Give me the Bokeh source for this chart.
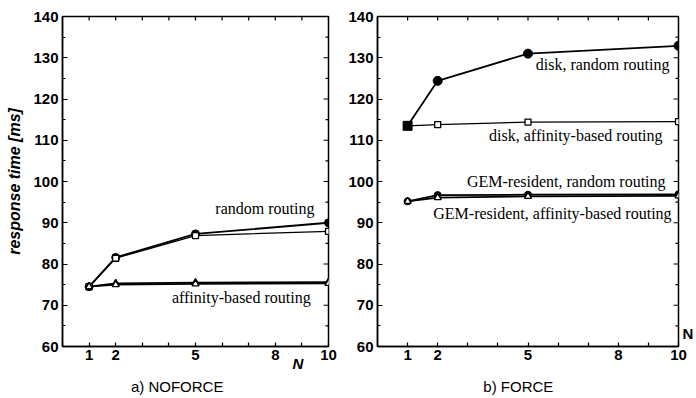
import math
from bokeh.plotting import figure
from bokeh.layouts import row
from bokeh.models import FixedTicker, Label, Range1d, LinearAxis
from bokeh.embed import file_html
from bokeh.resources import INLINE

# ---- data ----
n = [1, 2, 5, 10]
# a) NOFORCE
nf_random_circ = [74.5, 81.6, 87.3, 90.0]
nf_random_sq = [74.5, 81.4, 86.9, 87.9]
nf_aff_a = [74.5, 75.3, 75.5, 75.6]
nf_aff_b = [74.5, 75.0, 75.2, 75.3]
# b) FORCE
f_disk_random = [113.5, 124.4, 131.0, 132.9]
f_disk_aff = [113.5, 113.8, 114.4, 114.5]
f_gem_random = [95.2, 96.7, 96.8, 96.9]
f_gem_aff = [95.2, 96.1, 96.4, 96.5]

x_ticks = [1, 2, 3, 4, 5, 6, 7, 8, 9, 10]
x_tick_labels = {1: "1", 2: "2", 5: "5", 8: "8", 10: "10"}
y_major = [60, 70, 80, 90, 100, 110, 120, 130, 140]
y_minor = [65, 75, 85, 95, 105, 115, 125, 135]
X_MAX = 10
Y_MAX = 140

TICK_FONT = "Liberation Sans"
SERIF = "Liberation Serif"


def make_fig(width, bl, br, ylabel=None):
    p = figure(width=width, height=398, output_backend="svg", toolbar_location=None,
               x_range=Range1d(0, X_MAX), y_range=Range1d(60, Y_MAX),
               min_border_left=bl, min_border_right=br, min_border_top=16, min_border_bottom=52)
    p.grid.visible = False
    p.background_fill_color = "white"
    p.border_fill_color = "white"
    p.outline_line_color = "black"
    p.outline_line_width = 1.5

    overrides = {t: x_tick_labels.get(t, "") for t in x_ticks}
    xa = p.xaxis[0]
    xa.ticker = FixedTicker(ticks=x_ticks)
    xa.major_label_overrides = overrides
    ya = p.yaxis[0]
    ya.ticker = FixedTicker(ticks=y_major, minor_ticks=y_minor)

    for ax in (xa, ya):
        ax.axis_line_color = "black"
        ax.axis_line_width = 1.5
        ax.major_tick_in = 5
        ax.major_tick_out = 0
        ax.minor_tick_in = 3
        ax.minor_tick_out = 0
        ax.major_tick_line_width = 1.2
        ax.minor_tick_line_width = 1.2
        ax.major_label_text_font = TICK_FONT
        ax.major_label_text_font_style = "bold"
        ax.major_label_text_font_size = "15px"
        ax.major_label_text_color = "black"
    xa.major_tick_in = 4
    xa.major_label_standoff = 3
    ya.major_label_standoff = 4

    # inward ticks on the top and right frame edges
    p.ray(x=x_ticks, y=[Y_MAX] * len(x_ticks), length=4, length_units="screen",
          angle=-math.pi / 2, line_color="black", line_width=1.2)
    p.ray(x=[X_MAX] * len(y_major), y=y_major, length=5, length_units="screen",
          angle=math.pi, line_color="black", line_width=1.2)
    p.ray(x=[X_MAX] * len(y_minor), y=y_minor, length=3, length_units="screen",
          angle=math.pi, line_color="black", line_width=1.2)

    if ylabel:
        ya.axis_label = ylabel
        ya.axis_label_text_font = TICK_FONT
        ya.axis_label_text_font_style = "bold italic"
        ya.axis_label_text_font_size = "16px"
        ya.axis_label_text_color = "black"
        ya.axis_label_standoff = 7
    return p


def text_axis(p, side, pos, text, standoff, style="normal", size="15px"):
    """An axis with no line and no ticks, used only to place one text outside the frame."""
    ax = LinearAxis(ticker=FixedTicker(ticks=[pos]), major_label_overrides={pos: text},
                    axis_line_color=None, major_tick_line_color=None, minor_tick_line_color=None,
                    major_tick_in=0, major_tick_out=0, minor_tick_in=0, minor_tick_out=0,
                    major_label_standoff=standoff, major_label_text_font=TICK_FONT,
                    major_label_text_font_size=size, major_label_text_font_style=style,
                    major_label_text_color="black")
    if side == "right":
        ax.major_label_orientation = "horizontal"
    p.add_layout(ax, side)
    return ax


def add_text(p, x, y, text):
    p.add_layout(Label(x=x, y=y, text=text, text_font=SERIF, text_font_size="16px",
                       text_align="right", text_baseline="middle", text_color="black"))


# ---- panel a ----
p1 = make_fig(338, 62, 10, ylabel="response time [ms]")
p1.line(n, nf_random_circ, line_color="black", line_width=1.8)
p1.scatter(n, nf_random_circ, marker="circle", size=8, fill_color="black", line_color="black")
p1.line(n, nf_random_sq, line_color="black", line_width=1.3)
p1.line(n, nf_aff_a, line_color="black", line_width=1.8)
p1.line(n, nf_aff_b, line_color="black", line_width=1.8)
p1.scatter(n, nf_random_sq, marker="square", size=6, fill_color="white", line_color="black", line_width=1.3)
p1.scatter(n, nf_aff_a, marker="triangle", size=7, fill_color="white", line_color="black", line_width=1.3)
p1.scatter(n, nf_aff_b, marker="triangle", size=7, fill_color="white", line_color="black", line_width=1.3)

add_text(p1, 9.62, 93.5, "random  routing")
add_text(p1, 9.33, 71.9, "affinity-based routing")
text_axis(p1, "below", 8.85, "N", -8, style="bold italic")
text_axis(p1, "below", 4.31, "a) NOFORCE", 3)

# ---- panel b ----
disk_markers = ["square", "circle", "circle", "circle"]
p2 = make_fig(358, 39, 18)
p2.line(n, f_disk_random, line_color="black", line_width=1.8)
p2.line(n, f_disk_aff, line_color="black", line_width=1.3)
p2.scatter(n, f_disk_aff, marker="square", size=6, fill_color="white", line_color="black", line_width=1.3)
p2.scatter(n, f_disk_random, marker=disk_markers, size=9, fill_color="black", line_color="black")
p2.line(n, f_gem_random, line_color="black", line_width=1.8)
p2.line(n, f_gem_aff, line_color="black", line_width=1.8)
p2.scatter(n, f_gem_random, marker="circle", size=7, fill_color="black", line_color="black")
p2.scatter(n, f_gem_aff, marker="triangle", size=7, fill_color="white", line_color="black", line_width=1.3)

add_text(p2, 9.7, 128.3, "disk, random routing")
add_text(p2, 9.47, 111.2, "disk, affinity-based routing")
add_text(p2, 9.57, 100.0, "GEM-resident, random routing")
add_text(p2, 9.77, 92.2, "GEM-resident, affinity-based routing")
text_axis(p2, "right", 63.2, "N", 4, style="bold")
text_axis(p2, "below", 4.68, "b) FORCE", 15)

layout = row(p1, p2)
open("out.html", "w").write(file_html(layout, INLINE))
